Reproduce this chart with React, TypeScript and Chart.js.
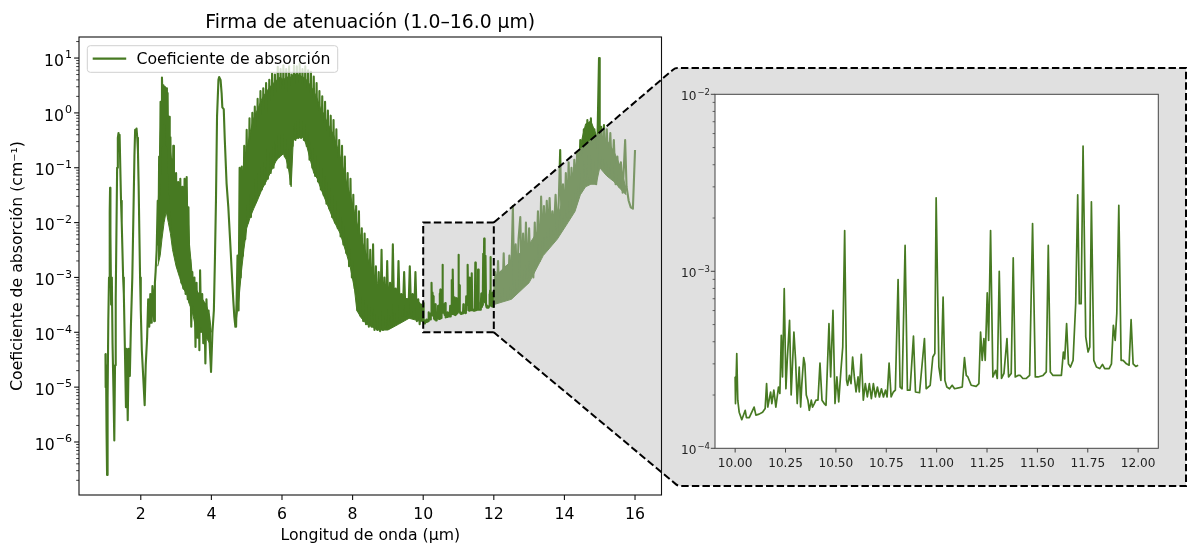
import React, { useEffect, useRef } from "react";
import { Chart, registerables } from "chart.js";
Chart.register(...registerables);

// ---------------- data ----------------
// 1.0 – 2.45 µm
const nirWl = [1.0, 1.005, 1.015, 1.03, 1.045, 1.06, 1.08, 1.1, 1.12, 1.13, 1.14, 1.16, 1.18, 1.2, 1.23, 1.25, 1.27, 1.29, 1.31, 1.33, 1.35, 1.37, 1.385, 1.4, 1.42, 1.44, 1.46, 1.48, 1.5, 1.52, 1.55, 1.58, 1.6, 1.63, 1.66, 1.69, 1.72, 1.76, 1.79, 1.82, 1.84, 1.86, 1.88, 1.9, 1.92, 1.94, 1.96, 1.98, 2.0, 2.03, 2.07, 2.11, 2.14, 2.18, 2.21, 2.24, 2.27, 2.29, 2.31, 2.33, 2.35, 2.37, 2.38, 2.4, 2.42];
const nirAbs = [4e-5, 1e-5, 2.5e-5, 1.6e-6, 2.5e-7, 6.3e-6, 1.6e-4, 1e-3, 1.6e-2, 4.3e-2, 6.3e-3, 3.2e-4, 1e-3, 6.3e-5, 6.3e-6, 1.07e-6, 2.5e-5, 4e-4, 6.3e-3, 0.1, 0.35, 0.43, 0.32, 0.4, 0.1, 0.025, 0.01, 3.2e-3, 1e-3, 5e-4, 5e-5, 4.3e-6, 5e-5, 2.5e-6, 5e-5, 1.6e-5, 1.26e-4, 1e-3, 1.26e-2, 0.16, 0.49, 0.45, 0.52, 0.35, 0.2, 0.045, 6.3e-3, 1e-3, 2.5e-4, 4.7e-5, 1.5e-5, 4.7e-6, 2.5e-5, 8.1e-5, 4e-4, 1.26e-4, 5e-4, 1.5e-4, 1.8e-4, 7e-4, 5e-4, 2e-4, 1.6e-4, 8e-4, 1.26e-3];

// 2.45 – 4.7 µm
const midWl = [2.45, 2.48, 2.5, 2.52, 2.54, 2.56, 2.58, 2.6, 2.62, 2.64, 2.66, 2.68, 2.7, 2.72, 2.74, 2.76, 2.78, 2.8, 2.82, 2.84, 2.86, 2.88, 2.9, 2.92, 2.94, 2.96, 2.98, 3.0, 3.03, 3.06, 3.09, 3.12, 3.15, 3.18, 3.21, 3.24, 3.27, 3.3, 3.33, 3.35, 3.38, 3.4, 3.43, 3.46, 3.49, 3.52, 3.55, 3.58, 3.61, 3.64, 3.66, 3.68, 3.71, 3.74, 3.77, 3.8, 3.83, 3.86, 3.89, 3.92, 3.95, 3.99, 4.03, 4.07, 4.1, 4.13, 4.16, 4.2, 4.22, 4.26, 4.29, 4.31, 4.35, 4.38, 4.43, 4.48, 4.53, 4.58, 4.62, 4.65, 4.68];
const midAbs = [3.2e-3, 2.5e-2, 4e-3, 0.16, 3.2e-2, 1.6, 0.25, 4.4, 1.26, 3.2, 0.63, 3.0, 1.0, 2.8, 0.25, 2.3, 0.08, 0.85, 0.032, 0.36, 0.0126, 0.14, 6.3e-3, 0.25, 4e-3, 0.045, 2.5e-3, 0.08, 1.6e-3, 0.055, 1.26e-3, 0.063, 8e-4, 0.045, 6.3e-4, 0.063, 5e-4, 0.068, 4e-4, 0.019, 3.5e-4, 2.1e-3, 1.26e-4, 1.26e-3, 3.2e-4, 1e-3, 5.4e-5, 8e-4, 8e-5, 5e-4, 4.7e-5, 1.35e-3, 1.26e-4, 5e-4, 6.3e-5, 3.2e-4, 2.7e-5, 4e-4, 1e-4, 2.5e-4, 6.3e-5, 1.9e-5, 1e-4, 2.5e-4, 2.1e-3, 0.026, 0.85, 4.0, 4.5, 4.0, 2.3, 1.26, 1.17, 0.32, 0.052, 0.019, 4.8e-3, 1.17e-3, 3.9e-4, 1.9e-4, 1.26e-4];

// 4.7 – 10 µm
const waterWl = [4.7, 4.74, 4.77, 4.8, 4.83, 4.86, 4.89, 4.93, 4.96, 5.0, 5.04, 5.08, 5.12, 5.16, 5.19, 5.23, 5.27, 5.31, 5.35, 5.39, 5.43, 5.47, 5.51, 5.55, 5.6, 5.64, 5.68, 5.72, 5.76, 5.8, 5.84, 5.88, 5.92, 5.96, 6.0, 6.04, 6.08, 6.12, 6.16, 6.2, 6.24, 6.27, 6.3, 6.34, 6.38, 6.42, 6.46, 6.5, 6.54, 6.58, 6.62, 6.66, 6.7, 6.74, 6.78, 6.82, 6.86, 6.9, 6.94, 6.98, 7.02, 7.06, 7.1, 7.14, 7.18, 7.22, 7.26, 7.3, 7.34, 7.38, 7.42, 7.46, 7.5, 7.54, 7.58, 7.62, 7.66, 7.7, 7.74, 7.78, 7.82, 7.86, 7.9, 7.94, 7.98, 8.02, 8.06, 8.1, 8.14, 8.18, 8.22, 8.26, 8.3, 8.34, 8.38, 8.42, 8.46, 8.5, 8.54, 8.58, 8.62, 8.66, 8.7, 8.74, 8.78, 8.82, 8.86, 8.9, 8.94, 8.98, 9.02, 9.06, 9.1, 9.14, 9.18, 9.22, 9.26, 9.3, 9.34, 9.38, 9.42, 9.46, 9.5, 9.54, 9.58, 9.62, 9.66, 9.7, 9.74, 9.78, 9.82, 9.86, 9.9, 9.94, 9.98];
const waterAbs = [1.26e-4, 2.5e-3, 2.5e-4, 0.1, 1e-3, 0.105, 2.5e-3, 0.25, 5e-3, 0.49, 0.01, 0.8, 0.0126, 1.0, 0.02, 1.3, 0.025, 1.8, 0.032, 2.5, 0.04, 2.8, 0.05, 3.5, 0.063, 4.0, 0.08, 5.2, 0.1, 5.0, 0.14, 6.9, 0.16, 6.3, 0.18, 7.4, 0.16, 6.3, 0.1, 7.1, 0.05, 5.0, 0.25, 7.4, 0.32, 7.1, 0.35, 7.9, 0.35, 6.3, 0.32, 7.1, 0.25, 6.0, 0.14, 5.6, 0.1, 4.6, 0.071, 3.5, 0.056, 2.5, 0.04, 2.0, 0.032, 1.6, 0.022, 1.1, 0.018, 0.89, 0.0126, 0.74, 0.01, 0.5, 7.9e-3, 0.32, 5.6e-3, 0.25, 4e-3, 0.16, 2.8e-3, 0.08, 1.6e-3, 0.063, 1e-3, 0.032, 6.3e-4, 0.02, 2.5e-4, 0.016, 2e-4, 7.9e-3, 1.6e-4, 6.3e-3, 1.4e-4, 5e-3, 1.26e-4, 3.2e-3, 1.26e-4, 4e-3, 1.1e-4, 1.6e-3, 1.1e-4, 1.26e-3, 1.05e-4, 3.2e-3, 1.1e-4, 1e-3, 1.26e-4, 2e-3, 1.4e-4, 8e-4, 1.26e-4, 4e-3, 1.6e-4, 6.3e-4, 1.6e-4, 2e-3, 1.8e-4, 5e-4, 2e-4, 1.26e-3, 2e-4, 4e-4, 2.2e-4, 1.6e-3, 2e-4, 5e-4, 1.8e-4, 1.26e-3, 1.6e-4, 4e-4, 1.4e-4, 3.2e-4, 1.6e-4];

// 10 – 12 µm (zoomed window)
const zoomWl = [10.0, 10.0017, 10.008, 10.013, 10.02, 10.033, 10.05, 10.056, 10.07, 10.094, 10.103, 10.119, 10.136, 10.149, 10.156, 10.162, 10.176, 10.182, 10.192, 10.202, 10.215, 10.222, 10.229, 10.235, 10.2436, 10.252, 10.2585, 10.27, 10.278, 10.2916, 10.3, 10.308, 10.318, 10.325, 10.331, 10.34, 10.346, 10.353, 10.361, 10.368, 10.378, 10.384, 10.393, 10.401, 10.411, 10.421, 10.431, 10.442, 10.451, 10.4656, 10.474, 10.4855, 10.4955, 10.505, 10.514, 10.525, 10.534, 10.5435, 10.553, 10.558, 10.567, 10.575, 10.583, 10.5915, 10.6, 10.61, 10.616, 10.626, 10.636, 10.646, 10.656, 10.666, 10.676, 10.686, 10.696, 10.706, 10.716, 10.726, 10.736, 10.746, 10.754, 10.764, 10.774, 10.785, 10.795, 10.8086, 10.8186, 10.8285, 10.8434, 10.855, 10.868, 10.885, 10.895, 10.915, 10.9395, 10.948, 10.968, 10.981, 10.991, 10.9975, 11.011, 11.021, 11.032, 11.041, 11.0505, 11.064, 11.077, 11.089, 11.1135, 11.127, 11.138, 11.147, 11.155, 11.1715, 11.196, 11.2096, 11.218, 11.226, 11.2345, 11.241, 11.251, 11.258, 11.2676, 11.279, 11.2925, 11.301, 11.3107, 11.322, 11.334, 11.349, 11.357, 11.37, 11.38, 11.39, 11.4035, 11.415, 11.428, 11.445, 11.4615, 11.476, 11.4897, 11.503, 11.528, 11.544, 11.554, 11.564, 11.5775, 11.602, 11.619, 11.629, 11.6355, 11.645, 11.654, 11.664, 11.677, 11.69, 11.7, 11.708, 11.717, 11.7266, 11.74, 11.7515, 11.76, 11.768, 11.78, 11.793, 11.8095, 11.823, 11.834, 11.856, 11.8675, 11.877, 11.886, 11.894, 11.904, 11.9155, 11.9255, 11.942, 11.955, 11.965, 11.975, 11.988, 12.0];
const zoomAbs = [2.53e-4, 1.79e-4, 3.43e-4, 1.87e-4, 1.6e-4, 1.45e-4, 1.64e-4, 1.49e-4, 1.49e-4, 1.71e-4, 1.54e-4, 1.56e-4, 1.6e-4, 1.68e-4, 2.32e-4, 1.71e-4, 2.08e-4, 1.79e-4, 2.13e-4, 1.71e-4, 2.22e-4, 2.04e-4, 4.35e-4, 2.53e-4, 7.98e-4, 2.17e-4, 3.14e-4, 5.28e-4, 2.0e-4, 4.54e-4, 3.14e-4, 1.79e-4, 2.88e-4, 1.71e-4, 2.32e-4, 3.25e-4, 3.0e-4, 2.0e-4, 1.87e-4, 1.64e-4, 1.87e-4, 1.71e-4, 1.79e-4, 1.87e-4, 1.87e-4, 3.03e-4, 1.87e-4, 1.79e-4, 1.75e-4, 5.06e-4, 2.53e-4, 6.02e-4, 1.79e-4, 2.53e-4, 1.83e-4, 2.76e-4, 3.74e-4, 1.7e-3, 2.42e-4, 2.27e-4, 2.58e-4, 2.32e-4, 3.28e-4, 2.53e-4, 2.08e-4, 2.53e-4, 2.08e-4, 3.4e-4, 1.87e-4, 2.32e-4, 1.95e-4, 2.32e-4, 1.91e-4, 2.32e-4, 1.95e-4, 2.22e-4, 1.95e-4, 2.17e-4, 1.95e-4, 2.13e-4, 1.95e-4, 3.03e-4, 1.95e-4, 2.08e-4, 2.13e-4, 8.98e-4, 2.22e-4, 2.17e-4, 1.4e-3, 2.13e-4, 2.13e-4, 4.3e-4, 2.08e-4, 2.06e-4, 4.17e-4, 2.17e-4, 2.27e-4, 3.28e-4, 3.43e-4, 2.6e-3, 2.88e-4, 2.42e-4, 7.16e-4, 2.42e-4, 2.22e-4, 2.17e-4, 2.27e-4, 2.17e-4, 2.2e-4, 2.22e-4, 3.25e-4, 2.58e-4, 2.53e-4, 2.27e-4, 2.24e-4, 2.32e-4, 4.54e-4, 3.14e-4, 4.17e-4, 3.14e-4, 7.55e-4, 4.07e-4, 1.7e-3, 2.53e-4, 2.76e-4, 2.48e-4, 1.0e-3, 2.48e-4, 2.65e-4, 4.17e-4, 2.53e-4, 2.65e-4, 1.19e-3, 2.53e-4, 2.58e-4, 2.58e-4, 2.48e-4, 2.48e-4, 2.58e-4, 1.86e-3, 2.53e-4, 2.53e-4, 2.58e-4, 2.7e-4, 1.4e-3, 2.7e-4, 2.58e-4, 2.58e-4, 2.58e-4, 3.5e-4, 3.2e-4, 5.06e-4, 3.0e-4, 2.88e-4, 3.14e-4, 6.56e-4, 2.7e-3, 6.56e-4, 6.56e-4, 5.1e-3, 4.26e-4, 3.5e-4, 3.74e-4, 2.47e-3, 3.14e-4, 2.88e-4, 2.82e-4, 2.98e-4, 2.82e-4, 2.82e-4, 3.0e-4, 4.95e-4, 4.07e-4, 5.77e-4, 2.36e-3, 3.14e-4, 3.14e-4, 3.0e-4, 2.95e-4, 5.33e-4, 3.0e-4, 2.9e-4, 2.95e-4];

// 12 – 16 µm
const lwWl = [12.04, 12.08, 12.12, 12.16, 12.2, 12.24, 12.28, 12.32, 12.36, 12.4, 12.44, 12.48, 12.54, 12.58, 12.62, 12.66, 12.7, 12.75, 12.79, 12.83, 12.87, 12.91, 12.95, 13.0, 13.04, 13.08, 13.12, 13.16, 13.2, 13.25, 13.3, 13.34, 13.38, 13.42, 13.46, 13.5, 13.54, 13.58, 13.62, 13.66, 13.7, 13.75, 13.8, 13.84, 13.88, 13.92, 13.96, 14.0, 14.04, 14.08, 14.12, 14.16, 14.2, 14.24, 14.28, 14.32, 14.36, 14.4, 14.45, 14.5, 14.55, 14.6, 14.65, 14.7, 14.75, 14.8, 14.85, 14.9, 14.94, 14.98, 15.0, 15.04, 15.08, 15.12, 15.16, 15.2, 15.25, 15.3, 15.35, 15.4, 15.45, 15.5, 15.55, 15.6, 15.65, 15.72, 15.76, 15.82, 15.88, 15.94, 16.0];
const lwAbs = [1.26e-3, 3.5e-4, 2e-3, 4e-4, 1.26e-3, 3.8e-4, 2.75e-3, 4e-4, 1.6e-3, 4.2e-4, 2.5e-3, 4.5e-4, 0.02, 5e-4, 4e-3, 6.3e-4, 5e-3, 0.0126, 8e-4, 6.3e-3, 9e-4, 0.01, 1e-3, 7.9e-3, 1.1e-3, 4e-3, 1e-3, 0.01, 1.6e-3, 0.016, 2e-3, 0.03, 3.2e-3, 0.02, 4e-3, 0.025, 5e-3, 0.028, 5.6e-3, 0.016, 6.3e-3, 0.032, 6.3e-3, 0.025, 0.21, 7.9e-3, 0.05, 0.01, 0.08, 0.0126, 0.126, 0.016, 0.1, 0.02, 0.14, 0.025, 0.195, 0.032, 0.32, 0.045, 0.5, 0.063, 0.74, 0.063, 0.8, 0.063, 0.5, 0.05, 0.43, 10, 0.12, 0.56, 0.1, 0.6, 0.08, 0.5, 0.071, 0.43, 0.063, 0.32, 0.05, 0.16, 0.045, 0.126, 0.035, 0.32, 0.045, 0.025, 0.019, 0.018, 0.21];

// dense-band envelopes (solid parts of the trace)
const bandAWl = [2.48, 2.55, 2.6, 2.66, 2.72, 2.78, 2.84, 2.9, 3.0, 3.1, 3.2, 3.3, 3.38, 3.45];
const bandAHi = [0.01, 0.4, 2.2, 2.0, 1.6, 0.63, 0.2, 0.1, 0.05, 0.045, 0.04, 0.045, 4e-3, 1.26e-3];
const bandALo = [1.6e-3, 2.5e-3, 5e-3, 0.01, 0.016, 0.01, 6.3e-3, 3.2e-3, 1.6e-3, 1e-3, 6.3e-4, 5e-4, 3.2e-4, 2.5e-4];

const bandBWl = [3.45, 3.55, 3.65, 3.75, 3.85, 3.95, 4.0];
const bandBHi = [1e-3, 6.3e-4, 5e-4, 4e-4, 3.2e-4, 2e-4, 1e-4];
const bandBLo = [2.5e-4, 1.26e-4, 1e-4, 1e-4, 8e-5, 6.3e-5, 5e-5];

const bandWWl = [4.68, 4.72, 4.78, 4.85, 4.92, 5.0, 5.1, 5.2, 5.3, 5.43, 5.57, 5.7, 5.85, 5.95, 6.04, 6.12, 6.18, 6.26, 6.32, 6.45, 6.6, 6.7, 6.8, 6.9, 7.0, 7.08, 7.17, 7.3, 7.46, 7.65, 7.84, 7.93, 8.05, 8.12, 8.25, 8.4, 8.55, 8.7];
const bandWHi = [1.5e-4, 4e-4, 2.5e-3, 0.016, 0.07, 0.2, 0.45, 0.8, 1.12, 1.8, 2.5, 3.2, 4.0, 4.5, 4.0, 4.5, 4.5, 4.5, 5.0, 5.0, 4.5, 4.0, 3.2, 2.5, 1.8, 1.26, 1.0, 0.63, 0.4, 0.16, 0.05, 0.032, 0.016, 0.01, 5e-3, 2.5e-3, 1.26e-3, 8e-4];
const bandWLo = [1.26e-4, 2e-4, 4e-4, 1.26e-3, 3.2e-3, 7.9e-3, 0.0126, 0.018, 0.025, 0.04, 0.059, 0.089, 0.14, 0.16, 0.18, 0.14, 0.1, 0.045, 0.32, 0.35, 0.36, 0.25, 0.14, 0.08, 0.063, 0.045, 0.032, 0.02, 0.011, 6.3e-3, 2.5e-3, 1.6e-3, 6.3e-4, 2.5e-4, 1.8e-4, 1.4e-4, 1.26e-4, 1.1e-4];

const bandDWl = [8.7, 9.0, 9.3, 9.6, 9.9, 10.0];
const bandDHi = [6.3e-4, 5e-4, 4.5e-4, 4e-4, 3.5e-4, 2.5e-4];
const bandDLo = [1.1e-4, 1.1e-4, 1.4e-4, 1.8e-4, 1.6e-4, 1.6e-4];

const bandLWl = [12.0, 12.5, 13.0, 13.4, 13.8, 14.1, 14.3, 14.45, 14.6, 14.75, 14.9, 15.0, 15.2, 15.4, 15.6, 15.75];
const bandLHi = [1e-3, 2e-3, 4e-3, 0.01, 0.0126, 0.05, 0.1, 0.25, 0.63, 0.71, 0.4, 0.32, 0.32, 0.2, 0.1, 0.04];
const bandLLo = [3.2e-4, 4e-4, 8e-4, 2.5e-3, 5e-3, 0.01, 0.016, 0.032, 0.045, 0.05, 0.05, 0.1, 0.071, 0.056, 0.04, 0.032];

// axes / ticks
const mainXTicks = [2, 4, 6, 8, 10, 12, 14, 16];
const mainYExps = [-6, -5, -4, -3, -2, -1, 0, 1];
const insetXTicks = [10.0, 10.25, 10.5, 10.75, 11.0, 11.25, 11.5, 11.75, 12.0];
const insetYExps = [-4, -3, -2];
const zoomX = [10, 12];
const zoomY = [1e-4, 1e-2];

const TITLE = "Firma de atenuación (1.0–16.0 µm)";
const X_LABEL = "Longitud de onda (µm)";
const Y_LABEL = "Coeficiente de absorción (cm⁻¹)";
const SERIES = "Coeficiente de absorción";

// ---------------- styles ----------------
const GREEN = "#477a22";
const SHADE = "rgba(186,186,186,0.45)";
const FONT = '"DejaVu Sans", "Liberation Sans", sans-serif';
const BOX = { tlx: 675, top: 68, blx: 678, bottom: 486, right: 1186 };
const FS = 15.7; // main font size
const FS_TITLE = 18.8;
const FS_INSET = 12.1;

const toPts = (wl: number[], v: number[]) => wl.map((w, i) => ({ x: w, y: v[i] }));

function minorLogTicks(min: number, max: number) {
  const out: number[] = [];
  for (let d = Math.floor(Math.log10(min)); d <= Math.ceil(Math.log10(max)); d++) {
    for (let k = 2; k <= 9; k++) {
      const v = k * Math.pow(10, d);
      if (v >= min && v <= max) out.push(v);
    }
  }
  return out;
}

function drawPow(ctx: CanvasRenderingContext2D, exp: number, xRight: number, yc: number, base: number, sup: number, color: string) {
  const b = "10";
  const s = exp < 0 ? "\u2212" + String(-exp) : String(exp);
  ctx.fillStyle = color;
  ctx.textBaseline = "alphabetic";
  ctx.textAlign = "left";
  ctx.font = `${base}px ${FONT}`;
  const wb = ctx.measureText(b).width;
  ctx.font = `${sup}px ${FONT}`;
  const ws = ctx.measureText(s).width;
  const x0 = xRight - wb - ws - 1;
  const baseline = yc + base * 0.49;
  ctx.font = `${base}px ${FONT}`;
  ctx.fillText(b, x0, baseline);
  ctx.font = `${sup}px ${FONT}`;
  ctx.fillText(s, x0 + wb + 1, baseline - base * 0.47);
}

const Y_MIN = 1.08e-7;
const Y_MAX = 24.2;

const mainDecor = {
  id: "mainDecor",
  beforeDatasetsDraw(chart: any) {
    const { ctx, scales } = chart;
    const x0 = scales.x.getPixelForValue(zoomX[0]);
    const x1 = scales.x.getPixelForValue(zoomX[1]);
    const yT = scales.y.getPixelForValue(zoomY[1]);
    const yB = scales.y.getPixelForValue(zoomY[0]);
    ctx.save();
    ctx.fillStyle = SHADE;
    ctx.fillRect(x0, yT, x1 - x0, yB - yT);
    ctx.restore();
  },
  afterDatasetsDraw(chart: any) {
    const { ctx, chartArea: a, scales } = chart;
    const xs = scales.x, ys = scales.y;
    const x0 = xs.getPixelForValue(zoomX[0]);
    const x1 = xs.getPixelForValue(zoomX[1]);
    const yT = ys.getPixelForValue(zoomY[1]);
    const yB = ys.getPixelForValue(zoomY[0]);
    ctx.save();
    // connector shading
    const path = () => {
      ctx.beginPath();
      ctx.moveTo(x1, yT);
      ctx.arcTo(BOX.tlx, BOX.top, BOX.right, BOX.top, 7);
      ctx.lineTo(BOX.right, BOX.top);
      ctx.lineTo(BOX.right, BOX.bottom);
      ctx.arcTo(BOX.blx, BOX.bottom, x1, yB, 7);
      ctx.lineTo(x1, yB);
    };
    path();
    ctx.closePath();
    ctx.fillStyle = SHADE;
    ctx.fill();
    path();
    ctx.setLineDash([7.4, 3.2]);
    ctx.lineWidth = 2;
    ctx.strokeStyle = "#000";
    ctx.stroke();
    ctx.strokeRect(x0, yT, x1 - x0, yB - yT);
    ctx.setLineDash([]);

    // spines
    ctx.lineWidth = 1.1;
    ctx.strokeStyle = "#111";
    ctx.strokeRect(a.left, a.top, a.right - a.left, a.bottom - a.top);

    // x ticks + labels
    ctx.fillStyle = "#000";
    ctx.font = `${FS}px ${FONT}`;
    ctx.textAlign = "center";
    ctx.textBaseline = "alphabetic";
    for (const t of mainXTicks) {
      const px = xs.getPixelForValue(t);
      ctx.beginPath();
      ctx.moveTo(px, a.bottom);
      ctx.lineTo(px, a.bottom + 4.9);
      ctx.stroke();
      ctx.fillText(String(t), px, 518.5);
    }
    // y ticks
    for (const e of mainYExps) {
      const py = ys.getPixelForValue(Math.pow(10, e));
      ctx.lineWidth = 1.1;
      ctx.beginPath();
      ctx.moveTo(a.left, py);
      ctx.lineTo(a.left - 4.9, py);
      ctx.stroke();
      drawPow(ctx, e, 72, py, FS, 11, "#000");
    }
    ctx.lineWidth = 0.8;
    for (const v of minorLogTicks(Y_MIN, Y_MAX)) {
      const py = ys.getPixelForValue(v);
      ctx.beginPath();
      ctx.moveTo(a.left, py);
      ctx.lineTo(a.left - 2.8, py);
      ctx.stroke();
    }

    // axis titles
    ctx.fillStyle = "#000";
    ctx.font = `${FS}px ${FONT}`;
    ctx.textAlign = "center";
    ctx.fillText(X_LABEL, (a.left + a.right) / 2, 540);
    ctx.save();
    ctx.translate(21.5, (a.top + a.bottom) / 2);
    ctx.rotate(-Math.PI / 2);
    ctx.fillText(Y_LABEL, 0, 0);
    ctx.restore();
    ctx.font = `${FS_TITLE}px ${FONT}`;
    ctx.fillText(TITLE, (a.left + a.right) / 2, 27.5);

    // legend
    const lx = 87.3, ly = 45.7, lw = 250.4, lh = 26.6, r = 3;
    ctx.beginPath();
    ctx.moveTo(lx + r, ly);
    ctx.arcTo(lx + lw, ly, lx + lw, ly + lh, r);
    ctx.arcTo(lx + lw, ly + lh, lx, ly + lh, r);
    ctx.arcTo(lx, ly + lh, lx, ly, r);
    ctx.arcTo(lx, ly, lx + lw, ly, r);
    ctx.closePath();
    ctx.fillStyle = "rgba(255,255,255,0.8)";
    ctx.fill();
    ctx.strokeStyle = "#d0d0d0";
    ctx.lineWidth = 1;
    ctx.stroke();
    ctx.strokeStyle = GREEN;
    ctx.lineWidth = 2.1;
    ctx.beginPath();
    ctx.moveTo(92.7, 58.6);
    ctx.lineTo(126.2, 58.6);
    ctx.stroke();
    ctx.fillStyle = "#000";
    ctx.font = `${FS}px ${FONT}`;
    ctx.textAlign = "left";
    ctx.fillText(SERIES, 136.5, 64);
    ctx.restore();
  },
};

const insetDecor = {
  id: "insetDecor",
  beforeDatasetsDraw(chart: any) {
    const { ctx, chartArea: a } = chart;
    ctx.save();
    ctx.fillStyle = "#fff";
    ctx.fillRect(a.left, a.top, a.right - a.left, a.bottom - a.top);
    ctx.restore();
  },
  afterDatasetsDraw(chart: any) {
    const { ctx, chartArea: a, scales } = chart;
    const xs = scales.x, ys = scales.y;
    ctx.save();
    ctx.strokeStyle = "#444";
    ctx.lineWidth = 1;
    ctx.strokeRect(a.left, a.top, a.right - a.left, a.bottom - a.top);
    ctx.fillStyle = "#222";
    ctx.font = `${FS_INSET}px ${FONT}`;
    ctx.textAlign = "center";
    ctx.textBaseline = "alphabetic";
    for (const t of insetXTicks) {
      const px = xs.getPixelForValue(t);
      ctx.beginPath();
      ctx.moveTo(px, a.bottom);
      ctx.lineTo(px, a.bottom + 4.2);
      ctx.stroke();
      ctx.fillText(t.toFixed(2), px, a.bottom + 18.3);
    }
    for (const e of insetYExps) {
      const py = ys.getPixelForValue(Math.pow(10, e));
      ctx.beginPath();
      ctx.moveTo(a.left, py);
      ctx.lineTo(a.left - 4.2, py);
      ctx.stroke();
      drawPow(ctx, e, a.left - 5, py, FS_INSET, 8.5, "#222");
    }
    ctx.lineWidth = 0.8;
    for (const v of minorLogTicks(1e-4, 1e-2)) {
      const py = ys.getPixelForValue(v);
      ctx.beginPath();
      ctx.moveTo(a.left, py);
      ctx.lineTo(a.left - 2.4, py);
      ctx.stroke();
    }
    ctx.restore();
  },
};

function bandSets(wl: number[], hi: number[], lo: number[]) {
  return [
    { data: toPts(wl, hi), borderColor: GREEN, borderWidth: 1, pointRadius: 0, fill: "+1", backgroundColor: GREEN, order: 2 },
    { data: toPts(wl, lo), borderColor: GREEN, borderWidth: 1, pointRadius: 0, fill: false, order: 2 },
  ];
}

export default function App() {
  const mainRef = useRef<HTMLCanvasElement>(null);
  const insetRef = useRef<HTMLCanvasElement>(null);

  useEffect(() => {
    const mainPts = [
      ...toPts(nirWl, nirAbs),
      ...toPts(midWl, midAbs),
      ...toPts(waterWl, waterAbs),
      ...toPts(zoomWl, zoomAbs),
      ...toPts(lwWl, lwAbs),
    ];
    const main = new Chart(mainRef.current as HTMLCanvasElement, {
      type: "line",
      data: {
        datasets: [
          { label: SERIES, data: mainPts, borderColor: GREEN, borderWidth: 2.1, pointRadius: 0, fill: false, borderJoinStyle: "round", order: 1 } as any,
          ...bandSets(bandAWl, bandAHi, bandALo),
          ...bandSets(bandBWl, bandBHi, bandBLo),
          ...bandSets(bandWWl, bandWHi, bandWLo),
          ...bandSets(bandDWl, bandDHi, bandDLo),
          ...bandSets(bandLWl, bandLHi, bandLLo),
        ] as any,
      },
      options: {
        responsive: false,
        animation: false,
        devicePixelRatio: 1,
        events: [],
        layout: { padding: { left: 79, right: 530.5, top: 37, bottom: 50 } },
        plugins: { legend: { display: false }, title: { display: false }, tooltip: { enabled: false } },
        elements: { line: { tension: 0 } },
        scales: {
          x: { type: "linear", min: 0.25, max: 16.75, display: false },
          y: { type: "logarithmic", min: Y_MIN, max: Y_MAX, display: false },
        },
      } as any,
      plugins: [mainDecor as any],
    });

    const inset = new Chart(insetRef.current as HTMLCanvasElement, {
      type: "line",
      data: {
        datasets: [
          { label: SERIES, data: toPts(zoomWl, zoomAbs), borderColor: GREEN, borderWidth: 1.7, pointRadius: 0, fill: false, borderJoinStyle: "round" } as any,
        ],
      },
      options: {
        responsive: false,
        animation: false,
        devicePixelRatio: 1,
        events: [],
        layout: { padding: { left: 55, right: 33.7, top: 34.3, bottom: 51.7 } },
        plugins: { legend: { display: false }, title: { display: false }, tooltip: { enabled: false } },
        elements: { line: { tension: 0 } },
        scales: {
          x: { type: "linear", min: 9.9, max: 12.1, display: false },
          y: { type: "logarithmic", min: 1e-4, max: 1e-2, display: false },
        },
      } as any,
      plugins: [insetDecor as any],
    });

    return () => {
      main.destroy();
      inset.destroy();
    };
  }, []);

  return (
    <div style={{ position: "fixed", left: 0, top: 0, width: 1192, height: 545, background: "#fff" }}>
      <canvas ref={mainRef} width={1192} height={545} style={{ position: "absolute", left: 0, top: 0, width: 1192, height: 545 }} />
      <canvas ref={insetRef} width={532} height={440} style={{ position: "absolute", left: 660, top: 60, width: 532, height: 440 }} />
    </div>
  );
}
